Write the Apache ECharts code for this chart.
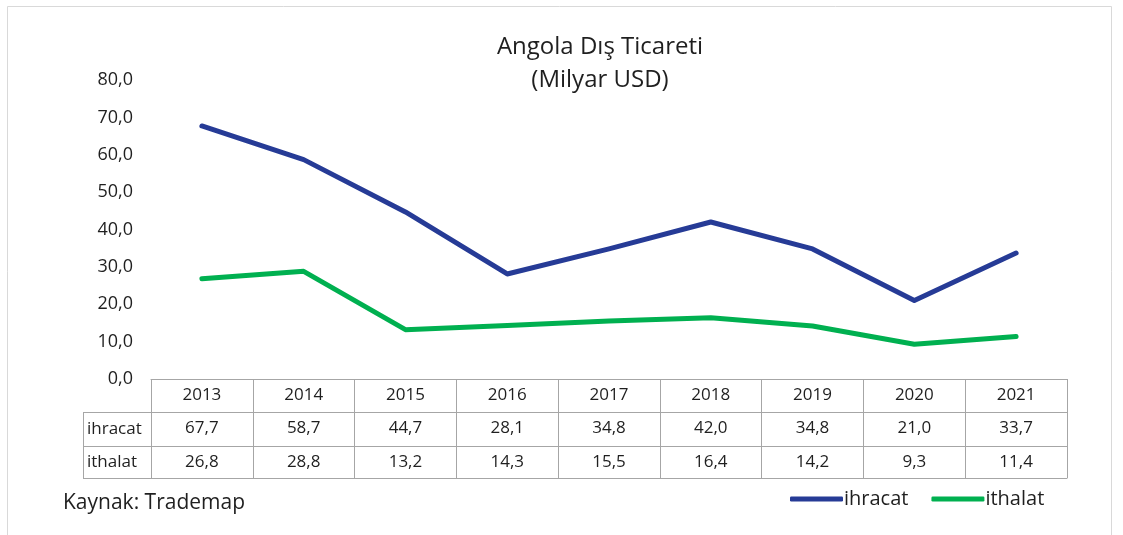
<!DOCTYPE html>
<html>
<head>
<meta charset="utf-8">
<script src="https://cdn.jsdelivr.net/npm/echarts@6/dist/echarts.min.js"></script>
<style>
html,body{margin:0;padding:0;background:#fff;}
#c{width:1123px;height:535px;}
</style>
</head>
<body>
<div id="c"></div>
<script>
const years = ['2013','2014','2015','2016','2017','2018','2019','2020','2021'];
const ihracat = [67.7, 58.7, 44.7, 28.1, 34.8, 42.0, 34.8, 21.0, 33.7];
const ithalat = [26.8, 28.8, 13.2, 14.3, 15.5, 16.4, 14.2, 9.3, 11.4];
const seriesNames = ['ihracat', 'ithalat'];
const titleLines = ['Angola Dış Ticareti', '(Milyar USD)'];
const sourceText = 'Kaynak: Trademap';

const FONT = '"Open Sans", "Noto Sans", sans-serif';
const fmt = v => v.toFixed(1).replace('.', ',');
const TXT = '#1f1f1f';
const LINE = '#A6A6A6';
const colors = ['#263B96', '#00B050'];

const chart = echarts.init(document.getElementById('c'));

function tableAxis(offset, tickLen, labels) {
  return {
    type: 'category',
    data: years,
    position: 'bottom',
    offset: offset,
    boundaryGap: true,
    axisLine: {show: true, lineStyle: {color: LINE, width: 1}},
    axisTick: {show: tickLen > 0, length: tickLen, inside: false, lineStyle: {color: LINE, width: 1}},
    axisLabel: {
      show: !!labels,
      margin: 8,
      fontFamily: FONT, fontSize: 17, lineHeight: 17, color: TXT,
      formatter: labels ? (v, i) => labels(v, i) : undefined
    },
    splitLine: {show: false}
  };
}

const option = {
  backgroundColor: '#fff',
  animation: false,
  grid: {left: 151, right: 56, top: 80, bottom: 156, containLabel: false},
  legend: {
    data: seriesNames,
    left: 785, top: 484,
    icon: 'roundRect',
    itemWidth: 53, itemHeight: 5, itemGap: 23,
    textStyle: {fontFamily: FONT, fontSize: 20, color: TXT, padding: [0, 0, 0, -4]}
  },
  xAxis: [
    tableAxis(0, 33, (v) => v),
    tableAxis(33, 34, (v, i) => fmt(ihracat[i])),
    tableAxis(67, 32, (v, i) => fmt(ithalat[i])),
    tableAxis(99, 0, null)
  ],
  yAxis: {
    type: 'value', min: 0, max: 80, interval: 10,
    axisLine: {show: false}, axisTick: {show: false},
    splitLine: {show: false},
    axisLabel: {margin: 18, fontFamily: FONT, fontSize: 18, color: TXT, formatter: v => fmt(v)}
  },
  series: [
    {name: seriesNames[0], type: 'line', data: ihracat, xAxisIndex: 0, symbol: 'none',
     lineStyle: {color: colors[0], width: 5, cap: 'round', join: 'round'}, itemStyle: {color: colors[0]}},
    {name: seriesNames[1], type: 'line', data: ithalat, xAxisIndex: 0, symbol: 'none',
     lineStyle: {color: colors[1], width: 5, cap: 'round', join: 'round'}, itemStyle: {color: colors[1]}}
  ],
  graphic: [
    {type: 'rect', shape: {x: 7.5, y: 6.5, width: 1104, height: 540}, style: {fill: 'none', stroke: '#D9D9D9', lineWidth: 1}, silent: true},
    {type: 'text', x: 600, y: 47, style: {text: titleLines[0], font: '24px ' + FONT, fill: TXT, textAlign: 'center', textVerticalAlign: 'middle'}},
    {type: 'text', x: 600, y: 80, style: {text: titleLines[1], font: '24px ' + FONT, fill: TXT, textAlign: 'center', textVerticalAlign: 'middle'}},
    {type: 'line', shape: {x1: 83.5, y1: 412, x2: 83.5, y2: 478}, style: {stroke: LINE, lineWidth: 1}},
    {type: 'line', shape: {x1: 83, y1: 412.5, x2: 151, y2: 412.5}, style: {stroke: LINE, lineWidth: 1}},
    {type: 'line', shape: {x1: 83, y1: 446.5, x2: 151, y2: 446.5}, style: {stroke: LINE, lineWidth: 1}},
    {type: 'line', shape: {x1: 83, y1: 478.5, x2: 151, y2: 478.5}, style: {stroke: LINE, lineWidth: 1}},
    {type: 'text', x: 87, y: 429, style: {text: seriesNames[0], font: '17px ' + FONT, fill: TXT, textAlign: 'left', textVerticalAlign: 'middle'}},
    {type: 'text', x: 87, y: 462, style: {text: seriesNames[1], font: '17px ' + FONT, fill: TXT, textAlign: 'left', textVerticalAlign: 'middle'}},
    {type: 'text', x: 63, y: 503, style: {text: sourceText, font: '21px ' + FONT, fill: TXT, textAlign: 'left', textVerticalAlign: 'middle'}}
  ]
};
chart.setOption(option);
</script>
</body>
</html>
